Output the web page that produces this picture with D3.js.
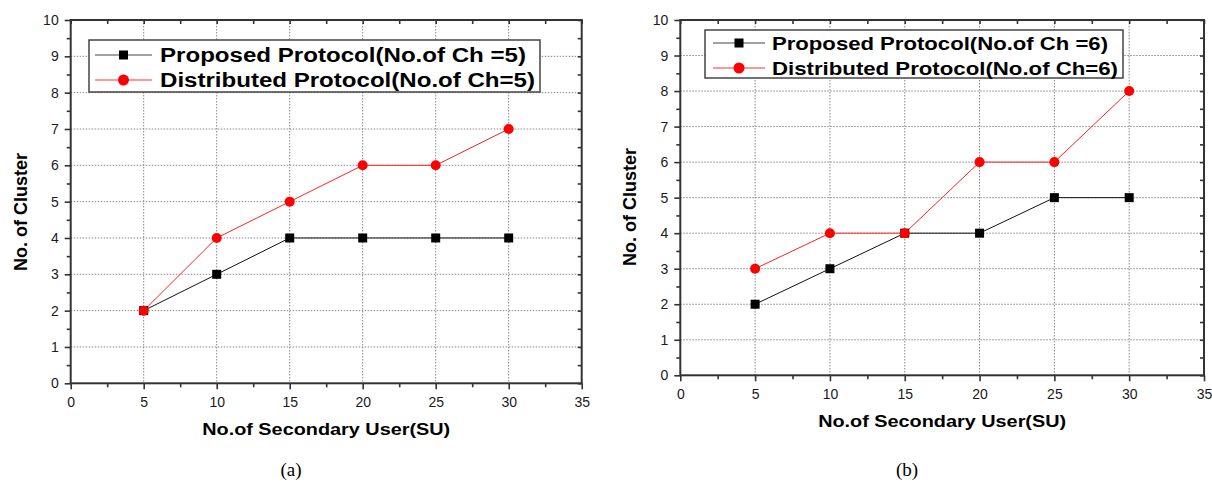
<!DOCTYPE html>
<html>
<head>
<meta charset="utf-8">
<script src="https://cdn.jsdelivr.net/npm/d3@7"></script>
<style>
  body { margin: 0; background: #fff; }
  svg { display: block; }
  text { font-family: "Liberation Sans", Arial, sans-serif; }
</style>
</head>
<body>
<div id="container"></div>
<script>
/* DATA */
const suCounts = [5, 10, 15, 20, 25, 30];
const proposedCh5 = [2, 3, 4, 4, 4, 4];
const distributedCh5 = [2, 4, 5, 6, 6, 7];
const proposedCh6 = [2, 3, 4, 4, 5, 5];
const distributedCh6 = [3, 4, 4, 6, 6, 8];
const legendCh5 = ["Proposed Protocol(No.of Ch =5)", "Distributed Protocol(No.of Ch=5)"];
const legendCh6 = ["Proposed Protocol(No.of Ch =6)", "Distributed Protocol(No.of Ch=6)"];
const xTicks = [0, 5, 10, 15, 20, 25, 30, 35];
const yTicks = [0, 1, 2, 3, 4, 5, 6, 7, 8, 9, 10];

/* CONSTANTS */
const width = 1212, height = 483;
const axisColor = "#333";

const svg = d3.select("#container")
  .append("svg")
  .attr("width", width)
  .attr("height", height);

// one panel of the figure
function drawPanel(cfg) {
  const xScale = d3.scaleLinear().domain([0, 35]).range([cfg.left, cfg.right]);
  const yScale = d3.scaleLinear().domain([0, 10]).range([cfg.bottom, cfg.top]);

  const g = svg.append("g");

  // grid (dotted)
  g.append("g")
    .selectAll("line.vgrid")
    .data(xTicks.filter(d => d > 0 && d < 35))
    .join("line")
    .attr("x1", d => xScale(d)).attr("x2", d => xScale(d))
    .attr("y1", cfg.top).attr("y2", cfg.bottom)
    .attr("stroke", "#888").attr("stroke-width", 1)
    .attr("stroke-dasharray", "1.5,1.5");
  g.append("g")
    .selectAll("line.hgrid")
    .data(yTicks.filter(d => d > 0 && d < 10))
    .join("line")
    .attr("x1", cfg.left).attr("x2", cfg.right)
    .attr("y1", d => yScale(d)).attr("y2", d => yScale(d))
    .attr("stroke", "#888").attr("stroke-width", 1)
    .attr("stroke-dasharray", "1.5,1.5");

  // + AXES
  const minorX = d3.range(2.5, 35, 5);
  const minorY = d3.range(0.5, 10, 1);

  const styleAxis = sel => {
    sel.select(".domain").remove();
    sel.selectAll("line").attr("stroke", axisColor).attr("stroke-width", 1.6);
    sel.selectAll("text")
      .attr("fill", "#1a1a1a")
      .style("font-size", "14px")
      .style("font-family", "'Liberation Sans', Arial, sans-serif");
  };

  g.append("g")
    .attr("transform", `translate(0,${cfg.bottom})`)
    .call(d3.axisBottom(xScale).tickValues(xTicks).tickSize(6).tickPadding(8).tickFormat(d3.format("d")))
    .call(styleAxis);
  g.append("g")
    .attr("transform", `translate(0,${cfg.bottom})`)
    .call(d3.axisBottom(xScale).tickValues(minorX).tickSize(4).tickFormat(""))
    .call(styleAxis);
  g.append("g")
    .attr("transform", `translate(${cfg.left},0)`)
    .call(d3.axisLeft(yScale).tickValues(yTicks).tickSize(6).tickPadding(6).tickFormat(d3.format("d")))
    .call(styleAxis);
  g.append("g")
    .attr("transform", `translate(${cfg.left},0)`)
    .call(d3.axisLeft(yScale).tickValues(minorY).tickSize(4).tickFormat(""))
    .call(styleAxis);

  // mirror ticks on top and right, pointing inward
  g.append("g")
    .attr("transform", `translate(0,${cfg.top})`)
    .call(d3.axisBottom(xScale).tickValues(xTicks.concat(minorX)).tickSize(4).tickFormat(""))
    .call(styleAxis);
  g.append("g")
    .attr("transform", `translate(${cfg.right},0)`)
    .call(d3.axisLeft(yScale).tickValues(yTicks.concat(minorY)).tickSize(4).tickFormat(""))
    .call(styleAxis);

  // frame
  g.append("rect")
    .attr("x", cfg.left).attr("y", cfg.top)
    .attr("width", cfg.right - cfg.left).attr("height", cfg.bottom - cfg.top)
    .attr("fill", "none").attr("stroke", axisColor).attr("stroke-width", 2);

  // axis titles
  g.append("text")
    .attr("x", (cfg.left + cfg.right) / 2)
    .attr("y", cfg.bottom + 52)
    .attr("text-anchor", "middle")
    .attr("font-weight", "bold")
    .attr("font-size", 17)
    .attr("textLength", 248)
    .attr("lengthAdjust", "spacingAndGlyphs")
    .text("No.of Secondary User(SU)");
  g.append("text")
    .attr("transform", `translate(${cfg.left - 44},${cfg.yTitleY}) rotate(-90)`)
    .attr("text-anchor", "middle")
    .attr("font-weight", "bold")
    .attr("font-size", 18)
    .text("No. of Cluster");

  // + SERIES
  const line = d3.line()
    .x((d, i) => xScale(suCounts[i]))
    .y(d => yScale(d));

  g.append("path")
    .datum(cfg.proposed)
    .attr("d", line)
    .attr("fill", "none").attr("stroke", "#111").attr("stroke-width", 1);
  g.append("path")
    .datum(cfg.distributed)
    .attr("d", line)
    .attr("fill", "none").attr("stroke", "#ff2020").attr("stroke-width", 1);

  const sq = 9;
  g.append("g")
    .selectAll("rect")
    .data(cfg.proposed)
    .join("rect")
    .attr("x", (d, i) => xScale(suCounts[i]) - sq / 2)
    .attr("y", d => yScale(d) - sq / 2)
    .attr("width", sq).attr("height", sq)
    .attr("fill", "#000");
  g.append("g")
    .selectAll("circle")
    .data(cfg.distributed)
    .join("circle")
    .attr("cx", (d, i) => xScale(suCounts[i]))
    .attr("cy", d => yScale(d))
    .attr("r", 5)
    .attr("fill", "#ff0000");

  // + LEGEND
  const L = cfg.legend;
  g.append("rect")
    .attr("x", L.x).attr("y", L.y)
    .attr("width", L.w).attr("height", L.h)
    .attr("fill", "#fff").attr("stroke", "#444").attr("stroke-width", 1.5);

  cfg.labels.forEach((label, i) => {
    const ry = L.y + L.rowY[i];
    const color = i === 0 ? "#444" : "#ff3030";
    g.append("line")
      .attr("x1", L.lineX[0]).attr("x2", L.lineX[1])
      .attr("y1", ry).attr("y2", ry)
      .attr("stroke", color).attr("stroke-width", 1.2);
    const mx = (L.lineX[0] + L.lineX[1]) / 2;
    if (i === 0) {
      g.append("rect")
        .attr("x", mx - 4.5).attr("y", ry - 4.5)
        .attr("width", 9).attr("height", 9)
        .attr("fill", "#000");
    } else {
      g.append("circle")
        .attr("cx", mx).attr("cy", ry).attr("r", 5.5)
        .attr("fill", "#ff0000");
    }
    g.append("text")
      .attr("x", L.textX)
      .attr("y", ry)
      .attr("dy", "0.36em")
      .attr("font-weight", "bold")
      .attr("font-size", L.fontSize)
      .attr("textLength", L.textLen[i])
      .attr("lengthAdjust", "spacingAndGlyphs")
      .attr("fill", "#000")
      .text(label);
  });

  // caption
  svg.append("text")
    .attr("x", cfg.captionX)
    .attr("y", 476)
    .attr("text-anchor", "middle")
    .attr("font-size", 19)
    .style("font-family", "'Liberation Serif', 'Times New Roman', serif")
    .text(cfg.caption);
}

drawPanel({
  left: 70.7, right: 581.7, top: 20, bottom: 383.3,
  yTitleY: 212,
  proposed: proposedCh5, distributed: distributedCh5,
  labels: legendCh5,
  legend: { x: 89, y: 40, w: 451, h: 52, rowY: [15, 40], lineX: [95, 152], textX: 160, fontSize: 20, textLen: [366, 375] },
  caption: "(a)", captionX: 291
});

drawPanel({
  left: 680.3, right: 1204, top: 20, bottom: 375.3,
  yTitleY: 207,
  proposed: proposedCh6, distributed: distributedCh6,
  labels: legendCh6,
  legend: { x: 705, y: 30, w: 418, h: 48, rowY: [13, 38], lineX: [713, 765], textX: 772, fontSize: 19, textLen: [336, 346] },
  caption: "(b)", captionX: 907
});
</script>
</body>
</html>
